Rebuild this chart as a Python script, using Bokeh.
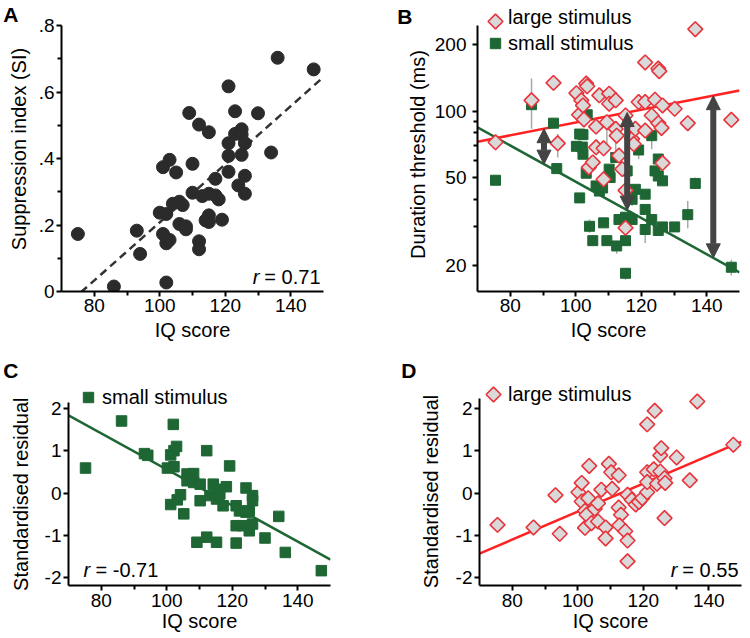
import numpy as np
from bokeh.plotting import figure
from bokeh.models import (Range1d, FixedTicker, Label, Arrow, NormalHead, Legend,
                          LegendItem, ColumnDataSource, LinearAxis)
from bokeh.layouts import row, column
from bokeh.embed import file_html
from bokeh.resources import INLINE

FONT = "Liberation Sans"
FS_TICK = "19px"
FS = "20px"
NBSP = "\u00a0"

# ---------------- data ----------------
# Panel A: suppression index vs IQ
a_iq = [75, 86, 93, 94, 100, 101, 103, 105, 102, 101, 102, 102, 103, 104, 106, 107, 106, 108,
        108, 109, 110, 110, 112, 112, 112, 113, 114, 115, 115, 115, 115, 117, 117, 118, 119,
        121, 121, 121, 121, 123, 123, 124, 125, 125, 125, 126, 126, 126, 130, 134, 136, 147]
a_si = [0.173, 0.015, 0.183, 0.113, 0.237, 0.374, 0.396, 0.358, 0.027, 0.173, 0.233, 0.145,
        0.155, 0.264, 0.27, 0.26, 0.203, 0.196, 0.187, 0.537, 0.384, 0.297, 0.502, 0.151,
        0.127, 0.287, 0.214, 0.479, 0.294, 0.229, 0.209, 0.339, 0.289, 0.277, 0.216, 0.617,
        0.446, 0.408, 0.36, 0.542, 0.474, 0.319, 0.488, 0.472, 0.411, 0.446, 0.348, 0.294,
        0.536, 0.418, 0.703, 0.668]
a_fit = (0.00874, -0.666)          # SI = slope*IQ + intercept
a_r = "= 0.71"

# Panel B: duration thresholds (ms)
b_small_iq = [75.5, 86.5, 93.2, 94.2, 100.2, 101.2, 102.2, 102, 102.2, 103.2, 103.5, 101.2,
              104.2, 105.2, 106.2, 107.2, 108.2, 108.5, 109.5, 110.2, 110.5, 112.2, 112.5,
              113.2, 115.2, 115.2, 115.2, 115.7, 117.2, 118.2, 119.2, 117.2, 121.2, 121.2,
              121.2, 123.2, 123.2, 124.2, 125.2, 125.2, 125.2, 126.5, 126.5, 130.2, 134.2,
              136.5, 147.5]
b_small_thr = [48.8, 107.3, 88.5, 55.1, 69.5, 79, 78.5, 69, 64, 52.5, 96.6, 40.6, 30.2, 26,
               46, 43.6, 45, 31.3, 26, 54.8, 50.2, 61.9, 24.6, 32.4, 33.2, 26, 18.5, 53.8,
               32.4, 44.4, 66.9, 40, 42.2, 36, 29.2, 77.7, 32.4, 53.8, 51, 60.9, 28.9, 48.5,
               30, 30, 34.1, 47.2, 19.7]
b_large_iq = [75.5, 86.5, 93.2, 94.5, 100.2, 101, 101.7, 102.2, 102.5, 103.2, 103.5, 104,
              105.2, 106.2, 106.2, 107.2, 108.5, 108.5, 109.5, 110.2, 110.2, 112.2, 112.2,
              112.5, 113.2, 114.2, 115.2, 115.2, 115.2, 117.2, 117.7, 118.2, 119.2, 121.2,
              121.2, 121.2, 123.2, 124.2, 125.2, 125.5, 125.2, 126.2, 126.5, 126.5, 130.2,
              134.2, 136.5, 147.5]
b_large_thr = [72.5, 112.3, 134.7, 71.7, 121, 96.6, 112.3, 106.5, 92, 133.7, 130, 55.8,
               58.8, 85.4, 68.8, 118.3, 68.1, 49.3, 89.4, 120.4, 108.4, 112.3, 83.4, 77.7,
               63.1, 54.8, 95.9, 43.9, 29.7, 75.1, 71.2, 83.4, 110.3, 166.7, 110.3, 81.9,
               95.9, 113, 156.5, 152.2, 88.5, 84.2, 106.5, 58.4, 102.8, 88.5, 235.8, 91.6]
b_err_iq = [86.5, 94.5, 109.5, 112.2, 117.2, 119.2, 121.2, 123.2, 134.2, 136.5, 147.5,
            112.5, 115.2, 104.2]
b_err_lo = [83.4, 61.9, 71.2, 65.2, 37.3, 60.8, 25.4, 67.5, 29.6, 45.2, 18.1, 22.7, 17.3, 28.2]
b_err_hi = [140.9, 79.1, 94.2, 84.8, 41.4, 68.8, 30.7, 80.5, 39.3, 50.2, 21.3, 25.4, 19.5, 32.4]
b_fit_large = (1.6605, 0.002893)    # log10(ms) = a + b*IQ
b_fit_small = (2.5025, -0.008208)
b_arrow_iq = [90.3, 115.7, 142.0]

# Panel C: standardised residual, small stimulus
c_iq = [75.2, 86.2, 93.2, 94.2, 100.2, 101.2, 102, 102.2, 103, 101.2, 103.2, 104.2, 102.2,
        105.2, 106.2, 106.2, 107.2, 108.2, 108.2, 109.2, 110.2, 110.2, 112.2, 112.2, 113.2,
        114.2, 115.2, 115.2, 115.2, 116.2, 117.2, 118.2, 119.2, 121.2, 121.2, 121.2, 122.2,
        123.2, 124.2, 124.2, 125.2, 125.2, 126.2, 126.2, 126.2, 130, 134.2, 136.2, 147.2]
c_res = [0.59, 1.70, 0.93, 0.89, 0.59, 0.90, 1.62, 1.0, 1.10, -0.27, -0.16, -0.04, 0.62,
         -0.49, 0.45, 0.29, 0.41, 0.46, 0.25, -1.16, 0.21, -0.18, 1.0, -1.04, -0.06, 0.21,
         0.09, -0.14, -1.16, -0.02, -0.30, 0.15, 0.64, -0.30, -0.77, -1.18, -0.42, -0.77,
         -0.45, 0.12, -0.42, -0.89, -0.06, -0.18, -0.73, -1.06, -0.55, -1.40, -1.83]
c_fit = (-0.04256, 4.814)
c_r = "= -0.71"

# Panel D: standardised residual, large stimulus
d_iq = [75.5, 86.5, 93.2, 94.5, 100.2, 101.2, 101.2, 102.2, 102.2, 102.7, 103.2, 103.5,
        104.2, 105.2, 106.2, 106.2, 107.2, 108.5, 108.5, 109.5, 110.2, 110.5, 112.5, 112.5,
        113.2, 112.7, 114.5, 115.2, 115.2, 115.2, 116.5, 117.7, 118.7, 119.7, 121.2, 121.2,
        121.2, 121.2, 123.2, 123.5, 124.2, 125.2, 125.5, 125.2, 126.5, 126.5, 126.7, 130.2,
        134.2, 136.5, 147.5]
d_res = [-0.75, -0.81, -0.05, -0.96, 0.02, 0.24, -0.20, -0.82, -0.42, -0.51, -0.12, 0.64,
         -0.71, -0.37, -0.24, -0.67, 0.08, -0.81, -1.07, 0.69, 0.49, 0.10, 0.42, -0.34,
         -0.51, -0.76, -0.90, -0.04, -1.12, -1.61, -0.16, -0.27, -0.21, -0.12, 1.62, 0.49,
         0.02, 0.26, 0.56, 1.94, 0.22, 0.89, 1.06, 0.51, -0.59, 0.35, 0.24, 0.84, 0.30,
         2.16, 1.14]
d_fit = (0.033, -3.7365)
d_r = "= 0.55"

x_ticks = [80, 100, 120, 140]
x_minor = [90, 110, 130]
X_LO, X_HI = 70, 150

# ---------------- styles ----------------
GREEN = "#1e6734"
RED = "#ff2222"
DIA_EDGE = "#e8343c"
DIA_FILL = "#d9d9d9"
DARK = "#2b2b2b"
ARROW = "#444444"
DIA = dict(marker="square", angle=np.pi / 4, size=10.5, fill_color=DIA_FILL,
           line_color=DIA_EDGE, line_width=1.6)


def text_w(s, size=20.0):
    w = {'0': .556, '1': .556, '2': .556, '3': .556, '4': .556, '5': .556, '6': .556,
         '7': .556, '8': .556, '9': .556, '.': .278, '=': .584, ' ': .278, '-': .333}
    return sum(w.get(ch, .5) for ch in s) * size


def make_fig(y_range, fw, fh, bl, br, bt, bb, y_type="linear"):
    p = figure(x_range=Range1d(X_LO, X_HI), y_range=y_range, frame_width=fw,
               frame_height=fh, min_border_left=bl, min_border_right=br,
               min_border_top=bt, min_border_bottom=bb, y_axis_type=y_type,
               output_backend="svg", toolbar_location=None)
    p.outline_line_color = None
    p.xgrid.visible = False
    p.ygrid.visible = False
    p.background_fill_color = "white"
    p.border_fill_color = "white"
    for ax in p.axis:
        ax.axis_line_width = 2
        ax.axis_line_color = "black"
        ax.major_tick_line_width = 2
        ax.minor_tick_line_width = 2
        ax.major_tick_in = 0
        ax.major_tick_out = 5
        ax.minor_tick_in = 0
        ax.minor_tick_out = 4
        ax.major_label_text_font = FONT
        ax.major_label_text_font_size = FS_TICK
        ax.major_label_text_color = "black"
        ax.axis_label_text_font = FONT
        ax.axis_label_text_font_size = FS
        ax.axis_label_text_font_style = "normal"
        ax.axis_label_text_color = "black"
    p.xaxis.ticker = FixedTicker(ticks=x_ticks, minor_ticks=x_minor)
    p.xaxis.axis_label = "IQ score"
    return p, p.yaxis[0], p.xaxis[0]


def panel_letter(p, letter, fh, tick, standoff):
    """Panel letter drawn as the only tick label of an invisible extra left axis."""
    p.extra_y_ranges = {"px": Range1d(0, fh)}
    ax = LinearAxis(y_range_name="px", ticker=FixedTicker(ticks=[tick], minor_ticks=[]),
                    major_label_overrides={tick: letter}, axis_line_color=None,
                    major_tick_line_color=None, minor_tick_line_color=None,
                    major_tick_in=0, major_tick_out=0, minor_tick_in=0, minor_tick_out=0,
                    major_label_standoff=standoff, major_label_text_font=FONT,
                    major_label_text_font_size="21px", major_label_text_font_style="bold",
                    major_label_text_color="black")
    p.add_layout(ax, "left")


def r_label(p, txt, x, y, dx, dy, align):
    common = dict(text_font=FONT, text_font_size=FS, text_color="black",
                  text_baseline="middle")
    if align == "right":
        p.add_layout(Label(x=x, y=y, x_offset=dx, y_offset=dy, text=txt,
                           text_align="right", **common))
        p.add_layout(Label(x=x, y=y, x_offset=dx - text_w(txt) - 5, y_offset=dy, text="r",
                           text_font_style="italic", text_align="right", **common))
    else:
        p.add_layout(Label(x=x, y=y, x_offset=dx, y_offset=dy, text="r",
                           text_font_style="italic", text_align="left", **common))
        p.add_layout(Label(x=x, y=y, x_offset=dx + 12, y_offset=dy, text=txt,
                           text_align="left", **common))


GW = 26      # legend glyph box (px)
LPITCH = 22  # legend row pitch (px)


def legend(p, items, vx, vy, standoff):
    leg = Legend(items=items, location=(vx, vy), orientation="vertical",
                 glyph_width=GW, glyph_height=GW, label_height=22, label_width=10,
                 label_standoff=standoff, padding=0, margin=0, spacing=LPITCH - GW,
                 border_line_color=None, background_fill_alpha=0,
                 label_text_font=FONT, label_text_font_size=FS,
                 label_text_color="black")
    p.add_layout(leg)


def px_to_x(dx_px):
    return X_LO + dx_px * (X_HI - X_LO) / FW


def px_to_y(dy_from_bottom, lo, hi, fh, log=False):
    f = dy_from_bottom / fh
    if log:
        return 10 ** (np.log10(lo) + f * (np.log10(hi) - np.log10(lo)))
    return lo + f * (hi - lo)


def diamond_key(p, vx, vy, n_items, idx, lo, hi, fh, log=False):
    """Rotated-square legend key drawn at the legend's glyph slot (legend keys ignore angle)."""
    legend_h = n_items * GW + (n_items - 1) * (LPITCH - GW)
    cy_from_bottom = vy + legend_h - idx * LPITCH - GW / 2
    p.scatter([px_to_x(vx + GW / 2)], [px_to_y(cy_from_bottom, lo, hi, fh, log)], **DIA)


def shifted_label(text, shift_px, size=20.0):
    """Axis labels are centred on the (extended) frame; pad the far end with no-break
    spaces so the visible text sits centred on the axis line instead."""
    n = int(round(2 * shift_px / (0.278 * size)))
    return text + NBSP * n


xs = np.array([X_LO, X_HI], dtype=float)

# ---------------- layout numbers (pixels) ----------------
FW = 262
R1_TOP, R1_AX_TOP, R1_BOT = 6, 25, 291          # frame top, y-axis top, axis bottom
R1_FH = R1_BOT - R1_TOP
R1_AXPX = R1_BOT - R1_AX_TOP
R2_TOP, R2_BOT = 358, 585
R2_FH = R2_BOT - R2_TOP
R2_PX_PER_UNIT = 42.4

# ---------------- Panel A ----------------
a_top = 0.8 * R1_FH / R1_AXPX
pA, ayA, axA = make_fig(Range1d(0, a_top), FW, R1_FH, 55, 57, R1_TOP, 62)
ayA.bounds = (0, 0.8)
ayA.ticker = FixedTicker(ticks=[0, 0.2, 0.4, 0.6, 0.8], minor_ticks=[0.1, 0.3, 0.5, 0.7])
ayA.major_label_overrides = {0: "0", 0.2: ".2", 0.4: ".4", 0.6: ".6", 0.8: ".8"}
ayA.axis_label = "Suppression index (SI)"
ayA.major_label_standoff = 2
ayA.axis_label_standoff = 6
axA.major_label_standoff = 2
axA.axis_label_standoff = 4
pA.line(xs, a_fit[0] * xs + a_fit[1], line_color="#333333", line_width=2.5,
        line_dash="8 5")
pA.scatter(a_iq, a_si, marker="circle", size=13, fill_color=DARK, line_color=DARK)
r_label(pA, a_r, X_HI, 0, -3, 15, "right")
panel_letter(pA, "A", R1_FH, R1_FH - 8, -14)

# ---------------- Panel B ----------------
b_lo, b_hi = 15.3, 245.0
b_top = 10 ** (np.log10(b_lo) + (np.log10(b_hi) - np.log10(b_lo)) * R1_FH / R1_AXPX)
pB, ayB, axB = make_fig(Range1d(b_lo, b_top), FW, R1_FH, 97, 1, R1_TOP, 62, y_type="log")
ayB.bounds = (b_lo, b_hi)
ayB.ticker = FixedTicker(ticks=[20, 50, 100, 200], minor_ticks=[30, 40, 60, 70, 80, 90])
ayB.major_label_overrides = {20: "20", 50: "50", 100: "100", 200: "200"}
ayB.axis_label = shifted_label("Duration threshold (ms)", 5.5)
ayB.major_label_standoff = 6
ayB.axis_label_standoff = 3
axB.major_label_standoff = 2
axB.axis_label_standoff = 4
pB.line(xs, 10 ** (b_fit_large[0] + b_fit_large[1] * xs), line_color=RED, line_width=2.5)
pB.line(xs, 10 ** (b_fit_small[0] + b_fit_small[1] * xs), line_color=GREEN, line_width=2.5)
pB.segment(x0=b_err_iq, y0=b_err_lo, x1=b_err_iq, y1=b_err_hi, line_color="#a8a8a8",
           line_width=1.5)
rs = pB.scatter(b_small_iq, b_small_thr, marker="square", size=10, fill_color=GREEN,
                line_color=GREEN)
rl = pB.scatter(b_large_iq, b_large_thr, **DIA)
ax_arr = np.array(b_arrow_iq)
arr_src = ColumnDataSource(dict(
    x0=ax_arr, y0=10 ** (b_fit_small[0] + b_fit_small[1] * ax_arr),
    x1=ax_arr, y1=10 ** (b_fit_large[0] + b_fit_large[1] * ax_arr)))
pB.add_layout(Arrow(x_start="x0", y_start="y0", x_end="x1", y_end="y1", source=arr_src,
                    line_color=ARROW, line_width=6,
                    start=NormalHead(size=14, fill_color=ARROW, line_color=ARROW, line_width=1),
                    end=NormalHead(size=14, fill_color=ARROW, line_color=ARROW, line_width=1)))
ghostB = pB.scatter([], [], marker="square", fill_alpha=0, line_alpha=0)
B_VX, B_VY = 5, R1_BOT - 56 - 0
legend(pB, [LegendItem(label="large stimulus", renderers=[ghostB]),
            LegendItem(label="small stimulus", renderers=[rs])], B_VX, B_VY, 0)
diamond_key(pB, B_VX, B_VY, 2, 0, b_lo, b_top, R1_FH, log=True)
panel_letter(pB, "B", R1_FH, R1_FH - 6, -9)

# ---------------- Panel C ----------------
r2_top = -2.18 + R2_FH / R2_PX_PER_UNIT
pC, ayC, axC = make_fig(Range1d(-2.18, r2_top), FW, R2_FH, 60, 52, 5, 52)
ayC.bounds = (-2.18, 2.14)
ayC.ticker = FixedTicker(ticks=[-2, -1, 0, 1, 2], minor_ticks=[])
ayC.major_label_overrides = {-2: "-2", -1: "-1", 0: "0", 1: "1", 2: "2"}
ayC.axis_label = shifted_label("Standardised residual", 21)
ayC.major_label_standoff = 2
ayC.axis_label_standoff = 10
axC.major_label_standoff = 3
axC.axis_label_standoff = 0
pC.line(xs, c_fit[0] * xs + c_fit[1], line_color=GREEN, line_width=2.5)
rc = pC.scatter(c_iq, c_res, marker="square", size=10.5, fill_color=GREEN, line_color=GREEN)
legend(pC, [LegendItem(label="small stimulus", renderers=[rc])], 7, R2_FH - 26 - 26, 1)
r_label(pC, c_r, X_LO, -2.18, 15, 16, "left")
panel_letter(pC, "C", R2_FH, R2_FH - 12, -12)

# ---------------- Panel D ----------------
pD, ayD, axD = make_fig(Range1d(-2.18, r2_top), FW, R2_FH, 97, 1, 5, 52)
ayD.bounds = (-2.18, 2.24)
ayD.ticker = FixedTicker(ticks=[-2, -1, 0, 1, 2], minor_ticks=[])
ayD.major_label_overrides = {-2: "-2", -1: "-1", 0: "0", 1: "1", 2: "2"}
ayD.axis_label = shifted_label("Standardised residual", 20)
ayD.major_label_standoff = 2
ayD.axis_label_standoff = 11
axD.major_label_standoff = 3
axD.axis_label_standoff = 0
pD.line(xs, d_fit[0] * xs + d_fit[1], line_color=RED, line_width=2.5)
pD.scatter(d_iq, d_res, **DIA)
ghostD = pD.scatter([], [], marker="square", fill_alpha=0, line_alpha=0)
D_VX, D_VY = 1, R2_FH - 23 - 26
legend(pD, [LegendItem(label="large stimulus", renderers=[ghostD])], D_VX, D_VY, 2)
diamond_key(pD, D_VX, D_VY, 1, 0, -2.18, r2_top, R2_FH)
r_label(pD, d_r, X_HI, -2.18, -3, 16, "right")
panel_letter(pD, "D", R2_FH, R2_FH - 12, 0)

layout = column(row(pA, pB), row(pC, pD))
open("out.html", "w").write(file_html(layout, INLINE, "IQ and suppression"))
